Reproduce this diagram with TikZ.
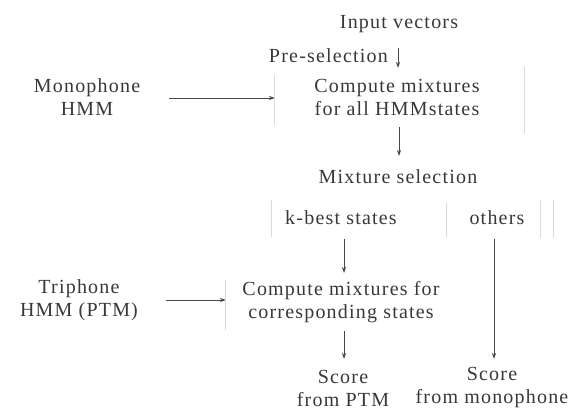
\documentclass[tikz,border=0pt]{standalone}
\usepackage{fontspec}
\setmainfont[LetterSpace=6]{Liberation Serif}
\usetikzlibrary{arrows.meta}
\begin{document}
\begin{tikzpicture}[x=1pt,y=-1pt,
  txt/.style={align=center,inner sep=1pt,text=black!78,font=\fontsize{20}{23}\selectfont},
  conn/.style={draw=black!72,line width=0.9pt,-{Stealth[length=6pt,width=4pt]}},
  faint/.style={draw=black!14,line width=0.7pt}]
\useasboundingbox (0,0) rectangle (576,411);
\node[txt] (in) at (399,24) {Input vectors};
\node[txt,anchor=east] (pre) at (389,56) {Pre-selection};
\coordinate (pa) at (398,48);
\coordinate (pb) at (398,68);
\node[txt] (cm) at (397,97) {Compute mixtures\\for all HMMstates};
\node[txt] (mono) at (87,97) {Monophone\\HMM};
\coordinate (ma) at (169,98);
\coordinate (mb) at (275,98);
\node[txt] (ms) at (398,177) {Mixture selection};
\node[txt] (kb) at (341,218) {k-best states};
\node[txt] (ot) at (497,218) {others};
\node[txt] (cc) at (341,302) {Compute mixtures for\\corresponding states};
\node[txt] (tri) at (79,300) {Triphone\\HMM (PTM)};
\coordinate (ta) at (166,300);
\coordinate (tb) at (226,300);
\node[txt] (sp) at (343,388) {Score\\from PTM};
\node[txt] (sm) at (492,388) {Score\\from monophone};
% connectors
\draw[conn] (pa) -- (pb);
\draw[conn] (ma) -- (mb);
\draw[conn] (399,127) -- (399,156);
\draw[conn] (344,239) -- (344,273);
\draw[conn] (ta) -- (tb);
\draw[conn] (344,331) -- (344,359);
\draw[conn] (494,239) -- (494,359);
% faint scan remnants of box edges
\draw[faint] (271,200) -- (271,237);
\draw[faint] (446,203) -- (446,237);
\draw[faint] (540,200) -- (540,238);
\draw[faint] (553,200) -- (553,238);
\draw[faint] (225,280) -- (225,330);
\draw[faint] (274,75) -- (274,125);
\draw[faint] (524,67) -- (524,133);
\end{tikzpicture}
\end{document}
